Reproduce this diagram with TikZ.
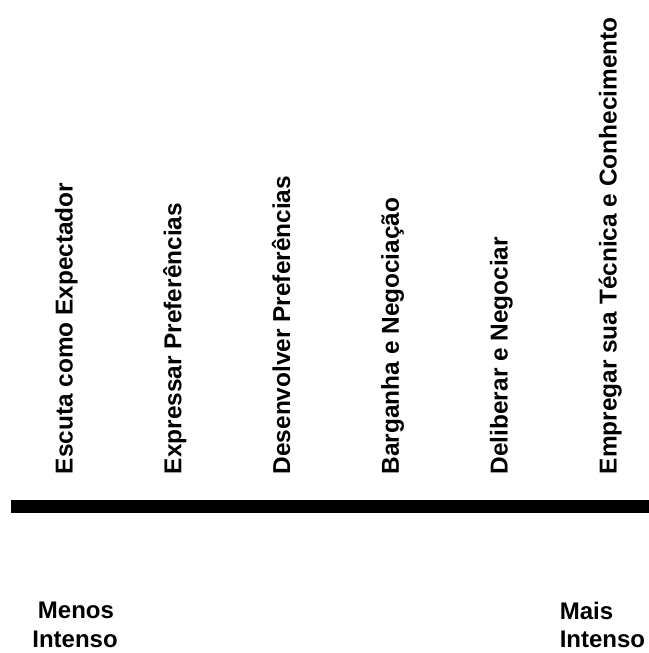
\documentclass[tikz,border=0pt]{standalone}
\usepackage{fontspec}
\setmainfont{Liberation Sans}
\begin{document}
\begin{tikzpicture}[x=0.75pt,y=-0.75pt,
  stage/.style={rotate=90,anchor=base west,inner sep=0pt,
    font=\fontsize{18.3}{22}\selectfont\bfseries},
  endlabel/.style={inner sep=0pt,
    font=\fontsize{18}{22}\selectfont\bfseries}]
\useasboundingbox (0,0) rectangle (649,653);
% intensity scale
\fill (10.5,500) rectangle (649,512.5);
\coordinate (bar) at (330,506);
% stages of participation
\node[stage] (s1) at (72.5,474.5) {Escuta como Expectador};
\node[stage] (s2) at (181.3,474.5) {Expressar Preferências};
\node[stage] (s3) at (290.1,474.5) {Desenvolver Preferências};
\node[stage] (s4) at (398.9,474.5) {Barganha e Negociação};
\node[stage] (s5) at (507.7,474.5) {Deliberar e Negociar};
\node[stage] (s6) at (616.5,474.5) {Empregar sua Técnica e Conhecimento};
% ends of the scale
\node[endlabel,anchor=base] (lo1) at (76,618) {Menos};
\node[endlabel,anchor=base] (lo2) at (75,647) {Intenso};
\node[endlabel,anchor=base west] (hi1) at (559.5,619) {Mais};
\node[endlabel,anchor=base west] (hi2) at (559.5,647) {Intenso};
\end{tikzpicture}
\end{document}
